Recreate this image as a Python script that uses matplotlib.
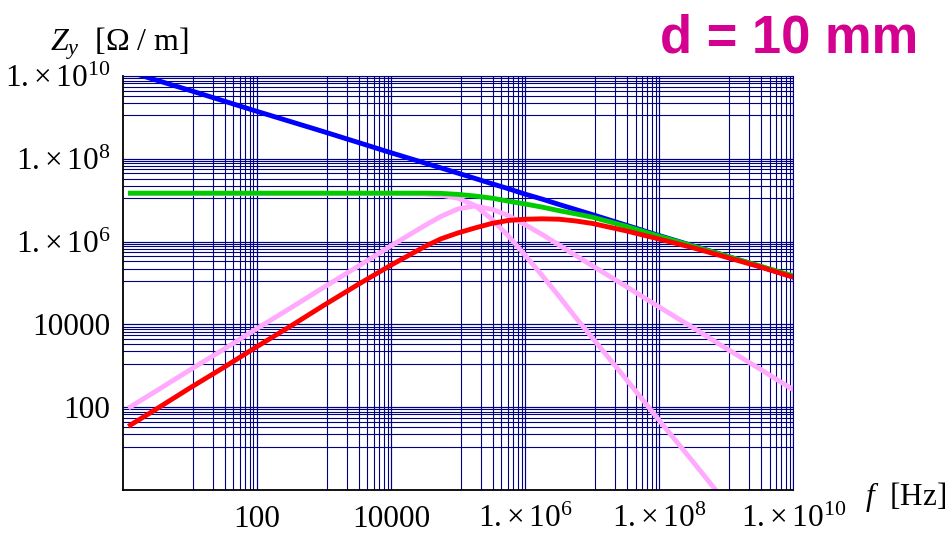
import matplotlib
matplotlib.use('Agg')
import matplotlib.pyplot as plt
from matplotlib.ticker import FixedLocator, NullFormatter

plt.rcParams['font.family'] = ['Liberation Serif', 'DejaVu Serif']
plt.rcParams['mathtext.fontset'] = 'custom'
plt.rcParams['mathtext.rm'] = 'Liberation Serif'
plt.rcParams['mathtext.it'] = 'Liberation Serif:italic'

# frequency points, Hz
freq = [1.3, 3.2, 10, 32, 100, 320, 1e3, 3.2e3, 1e4, 3.2e4, 5.6e4, 1e5, 1.8e5,
        3.2e5, 5.6e5, 1e6, 1.8e6, 3.2e6, 5.6e6, 1e7, 3.2e7, 1e8, 3.2e8, 1e9,
        3.2e9, 1e10]

# Z_y in Ohm/m for each curve
z_blue = [1.24e10, 7.9e9, 4.5e9, 2.5e9, 1.4e9, 7.9e8, 4.5e8, 2.5e8, 1.4e8,
          7.9e7, 6.0e7, 4.5e7, 3.35e7, 2.5e7, 1.9e7, 1.4e7, 1.06e7, 7.9e6,
          6.0e6, 4.5e6, 2.5e6, 1.4e6, 7.9e5, 4.5e5, 2.5e5, 1.4e5]
z_green = [1.48e7, 1.48e7, 1.48e7, 1.48e7, 1.48e7, 1.48e7, 1.48e7, 1.48e7,
           1.48e7, 1.48e7, 1.46e7, 1.38e7, 1.26e7, 1.12e7, 9.5e6, 8.1e6,
           6.8e6, 5.6e6, 4.7e6, 3.9e6, 2.35e6, 1.35e6, 7.8e5, 4.5e5, 2.57e5,
           1.48e5]
z_red = [37, 91, 290, 910, 2900, 9100, 2.9e4, 9.1e4, 2.7e5, 7.6e5, 1.17e6,
         1.62e6, 2.14e6, 2.75e6, 3.24e6, 3.47e6, 3.55e6, 3.47e6, 3.16e6,
         2.75e6, 1.82e6, 1.15e6, 7.1e5, 4.2e5, 2.45e5, 1.38e5]
z_pink_re = [1.45e7, 1.45e7, 1.45e7, 1.45e7, 1.45e7, 1.45e7, 1.45e7, 1.45e7,
             1.45e7, 1.41e7, 1.32e7, 1.12e7, 7.4e6, 3.47e6, 1.38e6, 4.7e5,
             1.51e5, 4.8e4, 1.51e4, 4.8e3, 480, 48, 4.8, 0.48]
z_pink_im = [102, 250, 790, 2500, 7900, 2.5e4, 7.9e4, 2.5e5, 7.9e5, 2.45e6,
             4.07e6, 6.17e6, 7.24e6, 6.03e6, 4.27e6, 2.57e6, 1.48e6, 8.3e5,
             4.7e5, 2.63e5, 8.3e4, 2.63e4, 8.3e3, 2.63e3, 830, 263]

tick_vals = [100, 1e4, 1e6, 1e8, 1e10]
x_tick_labels = ['100', '10000', r'$1.\!\times10^{6}$', r'$1.\!\times10^{8}$',
                 r'$1.\!\times10^{10}$']
y_tick_labels = ['100', '10000', r'$1.\!\times10^{6}$', r'$1.\!\times10^{8}$',
                 r'$1.\!\times10^{10}$']

navy = '#000080'
lw = 3.5

fig = plt.figure(figsize=(9.52, 5.34), dpi=100)
ax = fig.add_axes([0.1289, 0.0824, 0.7044, 0.7753])
ax.set_xscale('log')
ax.set_yscale('log')
ax.set_xlim(1, 1e10)
ax.set_ylim(1, 1e10)

# grid lines at k/9 of every second decade
grid_pos = [d * k / 9 for d in tick_vals for k in range(1, 10)]
ax.xaxis.set_minor_locator(FixedLocator(grid_pos))
ax.yaxis.set_minor_locator(FixedLocator(grid_pos))
ax.xaxis.set_minor_formatter(NullFormatter())
ax.yaxis.set_minor_formatter(NullFormatter())
ax.xaxis.remove_overlapping_locs = False
ax.yaxis.remove_overlapping_locs = False
ax.grid(which='both', color=navy, lw=0.8)
ax.set_axisbelow(True)

ax.plot(freq, z_blue, color='#0000ff', lw=lw)
ax.plot(freq[:len(z_pink_re)], z_pink_re, color='#ffaaff', lw=lw)
ax.plot(freq, z_pink_im, color='#ffaaff', lw=lw)
ax.plot(freq, z_green, color='#00cc00', lw=lw)
ax.plot(freq, z_red, color='#ff0000', lw=lw)

ax.set_xticks(tick_vals, x_tick_labels)
ax.set_yticks(tick_vals, y_tick_labels)
ax.tick_params(which='both', length=0)
ax.tick_params(axis='x', pad=27, labelsize=22.5)
ax.tick_params(axis='y', pad=9, labelsize=22.5)
for t in ax.get_xticklabels():
    t.set_verticalalignment('baseline')

for s in ['left', 'bottom']:
    ax.spines[s].set_color('black')
    ax.spines[s].set_linewidth(1.3)
for s in ['top', 'right']:
    ax.spines[s].set_color(navy)
    ax.spines[s].set_linewidth(0.8)

fig.text(50 / 952, 1 - 50 / 534, r'$Z_y$  [Ω / m]', fontsize=23,
         ha='left', va='baseline')
fig.text(865 / 952, 1 - 505 / 534, r'$f$  [Hz]', fontsize=22.5,
         ha='left', va='baseline')
fig.text(660 / 952, 1 - 52.7 / 534, 'd = 10 mm', fontsize=37.8,
         fontweight='bold', family='Liberation Sans', color='#d4008f',
         ha='left', va='baseline')

fig.savefig('out.png', dpi=100)
